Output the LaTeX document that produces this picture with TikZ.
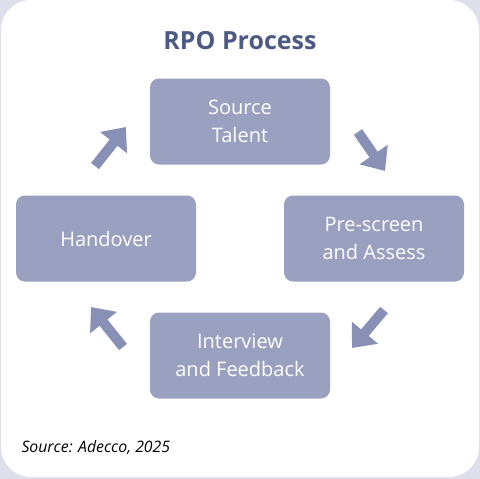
\documentclass[tikz,border=0pt]{standalone}
\usepackage{fontspec}
\setmainfont{Open Sans}
\usetikzlibrary{arrows.meta}
\definecolor{bgc}{HTML}{DDE0EA}
\definecolor{boxc}{HTML}{9AA1C0}
\definecolor{arrc}{HTML}{8890B6}
\definecolor{titlec}{HTML}{4E5A86}
\tikzset{
  stepbox/.style={fill=boxc, rounded corners=9pt, minimum width=180pt, minimum height=86pt,
    text=white, font=\fontsize{20}{28}\selectfont, align=center, inner sep=0pt},
  bigarrow/.style={draw=arrc, line width=10pt, -{Triangle[width=33pt,length=20pt]}}
}
\begin{document}
\begin{tikzpicture}[x=1pt,y=-1pt]
\fill[bgc] (0,0) rectangle (480,479);
\fill[white, rounded corners=30pt] (1,0) rectangle (479,477);
\useasboundingbox (0,0) rectangle (480,479);
\node[text=titlec, font=\fontsize{25}{28}\selectfont\bfseries] (title) at (240,41) {RPO Process};
\node[stepbox] (src) at (240,121.5) {Source\\Talent};
\node[stepbox] (pre) at (374,238.5) {Pre-screen\\and Assess};
\node[stepbox] (hand) at (106,238.5) {Handover};
\node[stepbox] (int) at (240,355.5) {Interview\\and Feedback};
\coordinate (a1s) at (95,166); \coordinate (a1e) at (126,127);
\coordinate (a2s) at (358,132); \coordinate (a2e) at (385,171);
\coordinate (a3s) at (384,310); \coordinate (a3e) at (352,348);
\coordinate (a4s) at (123,347); \coordinate (a4e) at (91,307);
\draw[bigarrow] (a1s) -- (a1e);
\draw[bigarrow] (a2s) -- (a2e);
\draw[bigarrow] (a3s) -- (a3e);
\draw[bigarrow] (a4s) -- (a4e);
\node[anchor=west, font=\fontsize{15.8}{18}\selectfont\itshape] (srcnote) at (18,448) {Source: Adecco, 2025};
\end{tikzpicture}
\end{document}
